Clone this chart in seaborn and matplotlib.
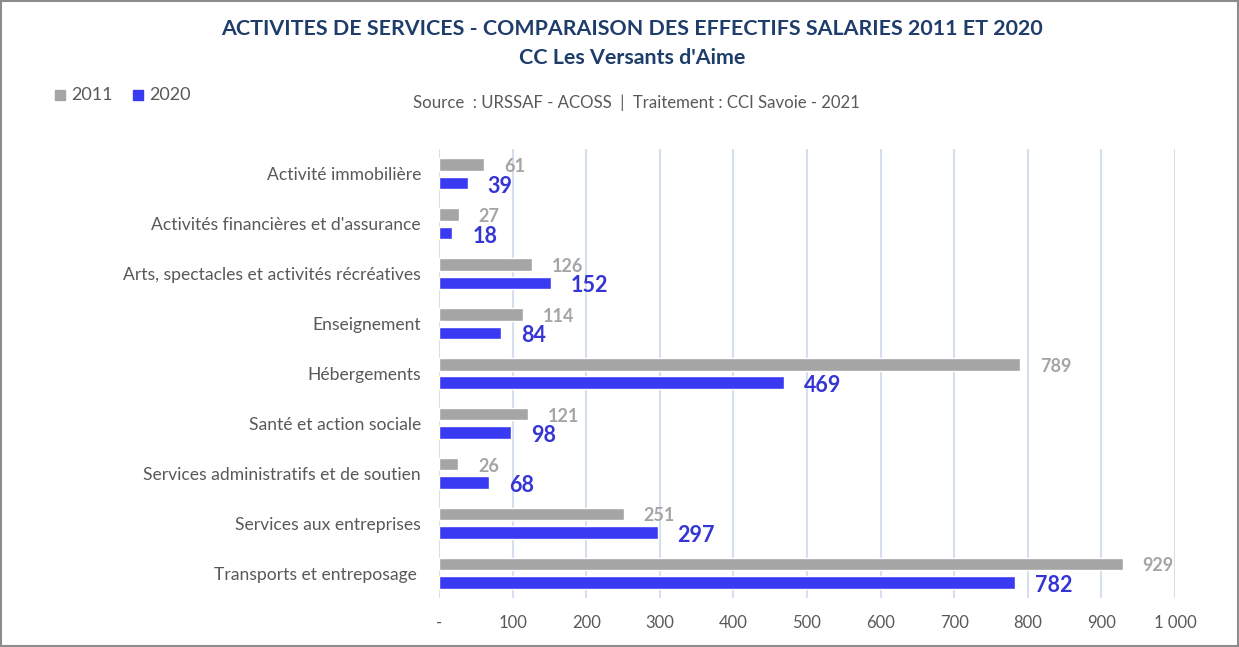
import matplotlib
matplotlib.use("Agg")
import matplotlib.pyplot as plt
import seaborn as sns
import pandas as pd
from matplotlib.patches import Rectangle
from matplotlib.ticker import FixedLocator, FixedFormatter

categories = [
    "Activité immobilière",
    "Activités financières et d'assurance",
    "Arts, spectacles et activités récréatives",
    "Enseignement",
    "Hébergements",
    "Santé et action sociale",
    "Services administratifs et de soutien",
    "Services aux entreprises",
    "Transports et entreposage ",
]
values_2011 = [61, 27, 126, 114, 789, 121, 26, 251, 929]
values_2020 = [39, 18, 152, 84, 469, 98, 68, 297, 782]
years = ["2011", "2020"]
x_ticks = [0, 100, 200, 300, 400, 500, 600, 700, 800, 900, 1000]
x_tick_labels = ["-", "100", "200", "300", "400", "500", "600", "700", "800", "900", "1 000"]

title = "ACTIVITES DE SERVICES - COMPARAISON DES EFFECTIFS SALARIES 2011 ET 2020"
subtitle = "CC Les Versants d'Aime"
source = "Source  : URSSAF - ACOSS  |  Traitement : CCI Savoie - 2021"

df = pd.DataFrame({
    "cat": categories * 2,
    "val": values_2011 + values_2020,
    "year": [years[0]] * len(categories) + [years[1]] * len(categories),
})

GRAY = "#A5A5A5"
BLUE = "#3A3AF2"
BLUE_TXT = "#3535D5"
TXT = "#595959"
TITLE_C = "#1F3D6B"

sns.set_theme(style="white")
plt.rcParams["font.family"] = ["Lato", "DejaVu Sans"]

fig = plt.figure(figsize=(12.39, 6.47), dpi=100)
ax = fig.add_axes([0.3543, 0.0757, 0.594, 0.694])

sns.barplot(data=df, y="cat", x="val", hue="year", orient="h",
            palette={years[0]: GRAY, years[1]: BLUE}, width=0.74, gap=0.32,
            ax=ax, legend=False, saturation=1)

ax.set_xlim(0, 1000)
ax.set_ylim(len(categories) - 0.5, -0.5)
ax.xaxis.set_major_locator(FixedLocator(x_ticks))
ax.xaxis.set_major_formatter(FixedFormatter(x_tick_labels))
ax.grid(axis="x", color="#D6DFEE", linewidth=1.5)
ax.set_axisbelow(True)
for s in ax.spines.values():
    s.set_visible(False)
ax.set_xlabel("")
ax.set_ylabel("")
ax.tick_params(axis="x", length=0, pad=12, labelsize=12, labelcolor=TXT)
ax.tick_params(axis="y", length=0, pad=13, labelsize=12.6, labelcolor=TXT)

styles = [(GRAY, 13, (20, -2)), (BLUE_TXT, 15.5, (20, -3))]
for cont, (col, fs, off) in zip(ax.containers, styles):
    for p in cont.patches:
        w = p.get_width()
        yc = p.get_y() + p.get_height() / 2
        ax.annotate(f"{int(round(w))}", xy=(w, yc), xytext=off,
                    textcoords="offset pixels", ha="left", va="center",
                    fontsize=fs, fontweight="bold", color=col)

fig.text(0.510, 0.955, title, ha="center", va="center", fontsize=15.4,
         fontweight="bold", color=TITLE_C)
fig.text(0.510, 0.910, subtitle, ha="center", va="center", fontsize=15.4,
         fontweight="bold", color=TITLE_C)
fig.text(0.514, 0.841, source, ha="center", va="center", fontsize=12.1, color=TXT)

# legend
for i, (yr, col) in enumerate(zip(years, [GRAY, BLUE])):
    x0 = 55 + i * 78
    fig.patches.append(Rectangle((x0 / 1239, 1 - 100 / 647), 10 / 1239, 10 / 647,
                                 transform=fig.transFigure, color=col))
    fig.text((x0 + 16) / 1239, 1 - 95 / 647, yr, ha="left", va="center",
             fontsize=13, color=TXT)

fig.patches.append(Rectangle((0.0008, 0.0015), 0.9984, 0.997, transform=fig.transFigure,
                             fill=False, edgecolor="#8C8C8C", linewidth=1.5))

fig.savefig("out.png", dpi=100)
